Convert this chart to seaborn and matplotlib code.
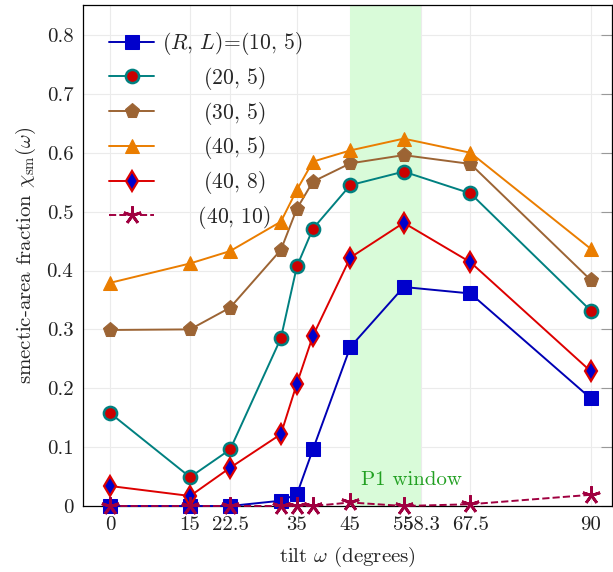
import pandas as pd
import matplotlib
matplotlib.use("Agg")
import matplotlib.pyplot as plt
import seaborn as sns

# tilt angles (degrees) and smectic-area fraction per (R, L)
tilt = [0, 15, 22.5, 32, 35, 38, 45, 55, 67.5, 90]
r10_l5 = [0.0, 0.0, 0.0, 0.009, 0.020, 0.096, 0.270, 0.372, 0.361, 0.183]
r20_l5 = [0.158, 0.049, 0.096, 0.285, 0.407, 0.471, 0.545, 0.568, 0.531, 0.332]
r30_l5 = [0.299, 0.300, 0.337, 0.435, 0.505, 0.551, 0.582, 0.596, 0.581, 0.384]
r40_l5 = [0.379, 0.412, 0.433, 0.483, 0.537, 0.585, 0.604, 0.624, 0.600, 0.437]
r40_l8 = [0.034, 0.017, 0.065, 0.122, 0.208, 0.289, 0.422, 0.481, 0.414, 0.229]
r40_l10 = [0.0, 0.0, 0.0, 0.0, 0.0, 0.0, 0.006, 0.0, 0.003, 0.019]

xticks = [0, 15, 22.5, 35, 45, 55, 58.3, 67.5, 90]
xtick_labels = ["0", "15", "22.5", "35", "45", "55", "58.3", "67.5", "90"]
yticks = [0, 0.1, 0.2, 0.3, 0.4, 0.5, 0.6, 0.7, 0.8]
ytick_labels = ["0", "0.1", "0.2", "0.3", "0.4", "0.5", "0.6", "0.7", "0.8"]
window = (45, 58.3)

sns.set_style("whitegrid")
plt.rcParams["font.family"] = "serif"
plt.rcParams["font.serif"] = ["cmr10"]
plt.rcParams["mathtext.fontset"] = "cm"
plt.rcParams["axes.unicode_minus"] = False
plt.rcParams["axes.formatter.use_mathtext"] = True

fig = plt.figure(figsize=(6.13, 5.72), dpi=100)
ax = fig.add_axes([83 / 613, 66 / 572, 529 / 613, 501 / 572])

ax.axvspan(window[0], window[1], color="#d9fbd9", lw=0, zorder=0.8)

series = [
    (r10_l5, r"$(R,\,L)\!=\!(10,\,5)$", "#0000b4", dict(marker="s", markersize=10, markerfacecolor="#0000cc", markeredgecolor="#0000cc")),
    (r20_l5, r"$\hspace{2.2}(20,\,5)$", "#008080", dict(marker="o", markersize=9.5, markerfacecolor="#cc0000", markeredgecolor="#008080", markeredgewidth=1.8)),
    (r30_l5, r"$\hspace{2.2}(30,\,5)$", "#9c6434", dict(marker="p", markersize=11, markerfacecolor="#9c6434", markeredgecolor="#9c6434")),
    (r40_l5, r"$\hspace{2.2}(40,\,5)$", "#ea7d00", dict(marker="^", markersize=10.5, markerfacecolor="#ea7d00", markeredgecolor="#ea7d00")),
    (r40_l8, r"$\hspace{2.2}(40,\,8)$", "#dd0000", dict(marker="d", markersize=10, markerfacecolor="#0000cc", markeredgecolor="#dd0000", markeredgewidth=1.6)),
    (r40_l10, r"$\hspace{1.9}(40,\,10)$", "#a00040", dict(marker=(5, 2, 0), markersize=13, markeredgecolor="#a00040", markeredgewidth=2, linestyle="--", dashes=(4, 3))),
]

for vals, lab, col, kw in series:
    df = pd.DataFrame({"tilt": tilt, "frac": vals})
    sns.lineplot(data=df, x="tilt", y="frac", ax=ax, color=col, lw=1.4,
                 label=lab, clip_on=False, zorder=3, **kw)

ax.set_xlim(-5.05, 94.0)
ax.set_ylim(0, 0.851)
ax.set_xticks(xticks)
ax.set_xticklabels(xtick_labels)
ax.set_yticks(yticks)
ax.set_yticklabels(ytick_labels)
ax.grid(True, color="#ebebeb", lw=0.8)
ax.set_axisbelow(True)
for s in ax.spines.values():
    s.set_color("black")
    s.set_linewidth(0.9)

ax.tick_params(axis="both", direction="in", length=8, width=0.8, color="#999999",
               labelsize=15, labelcolor="#222222")
ax.tick_params(axis="y", right=True, pad=7)
ax.tick_params(axis="x", pad=7)

ax.text(56.5, 0.044, "P1 window", color="#22a022", fontsize=15, ha="center", va="center")

ax.set_xlabel(r"tilt $\omega$ (degrees)", fontsize=15, labelpad=8)
ax.set_ylabel(r"smectic-area fraction $\chi_{\mathrm{sm}}(\omega)$", fontsize=15, labelpad=6)

ax.legend(loc="upper left", bbox_to_anchor=(0.049, 0.95), frameon=False, fontsize=15.5,
          borderpad=0, borderaxespad=0, handlelength=2.1, handletextpad=0.36,
          labelspacing=0.36)

fig.savefig("out.png", dpi=100)
